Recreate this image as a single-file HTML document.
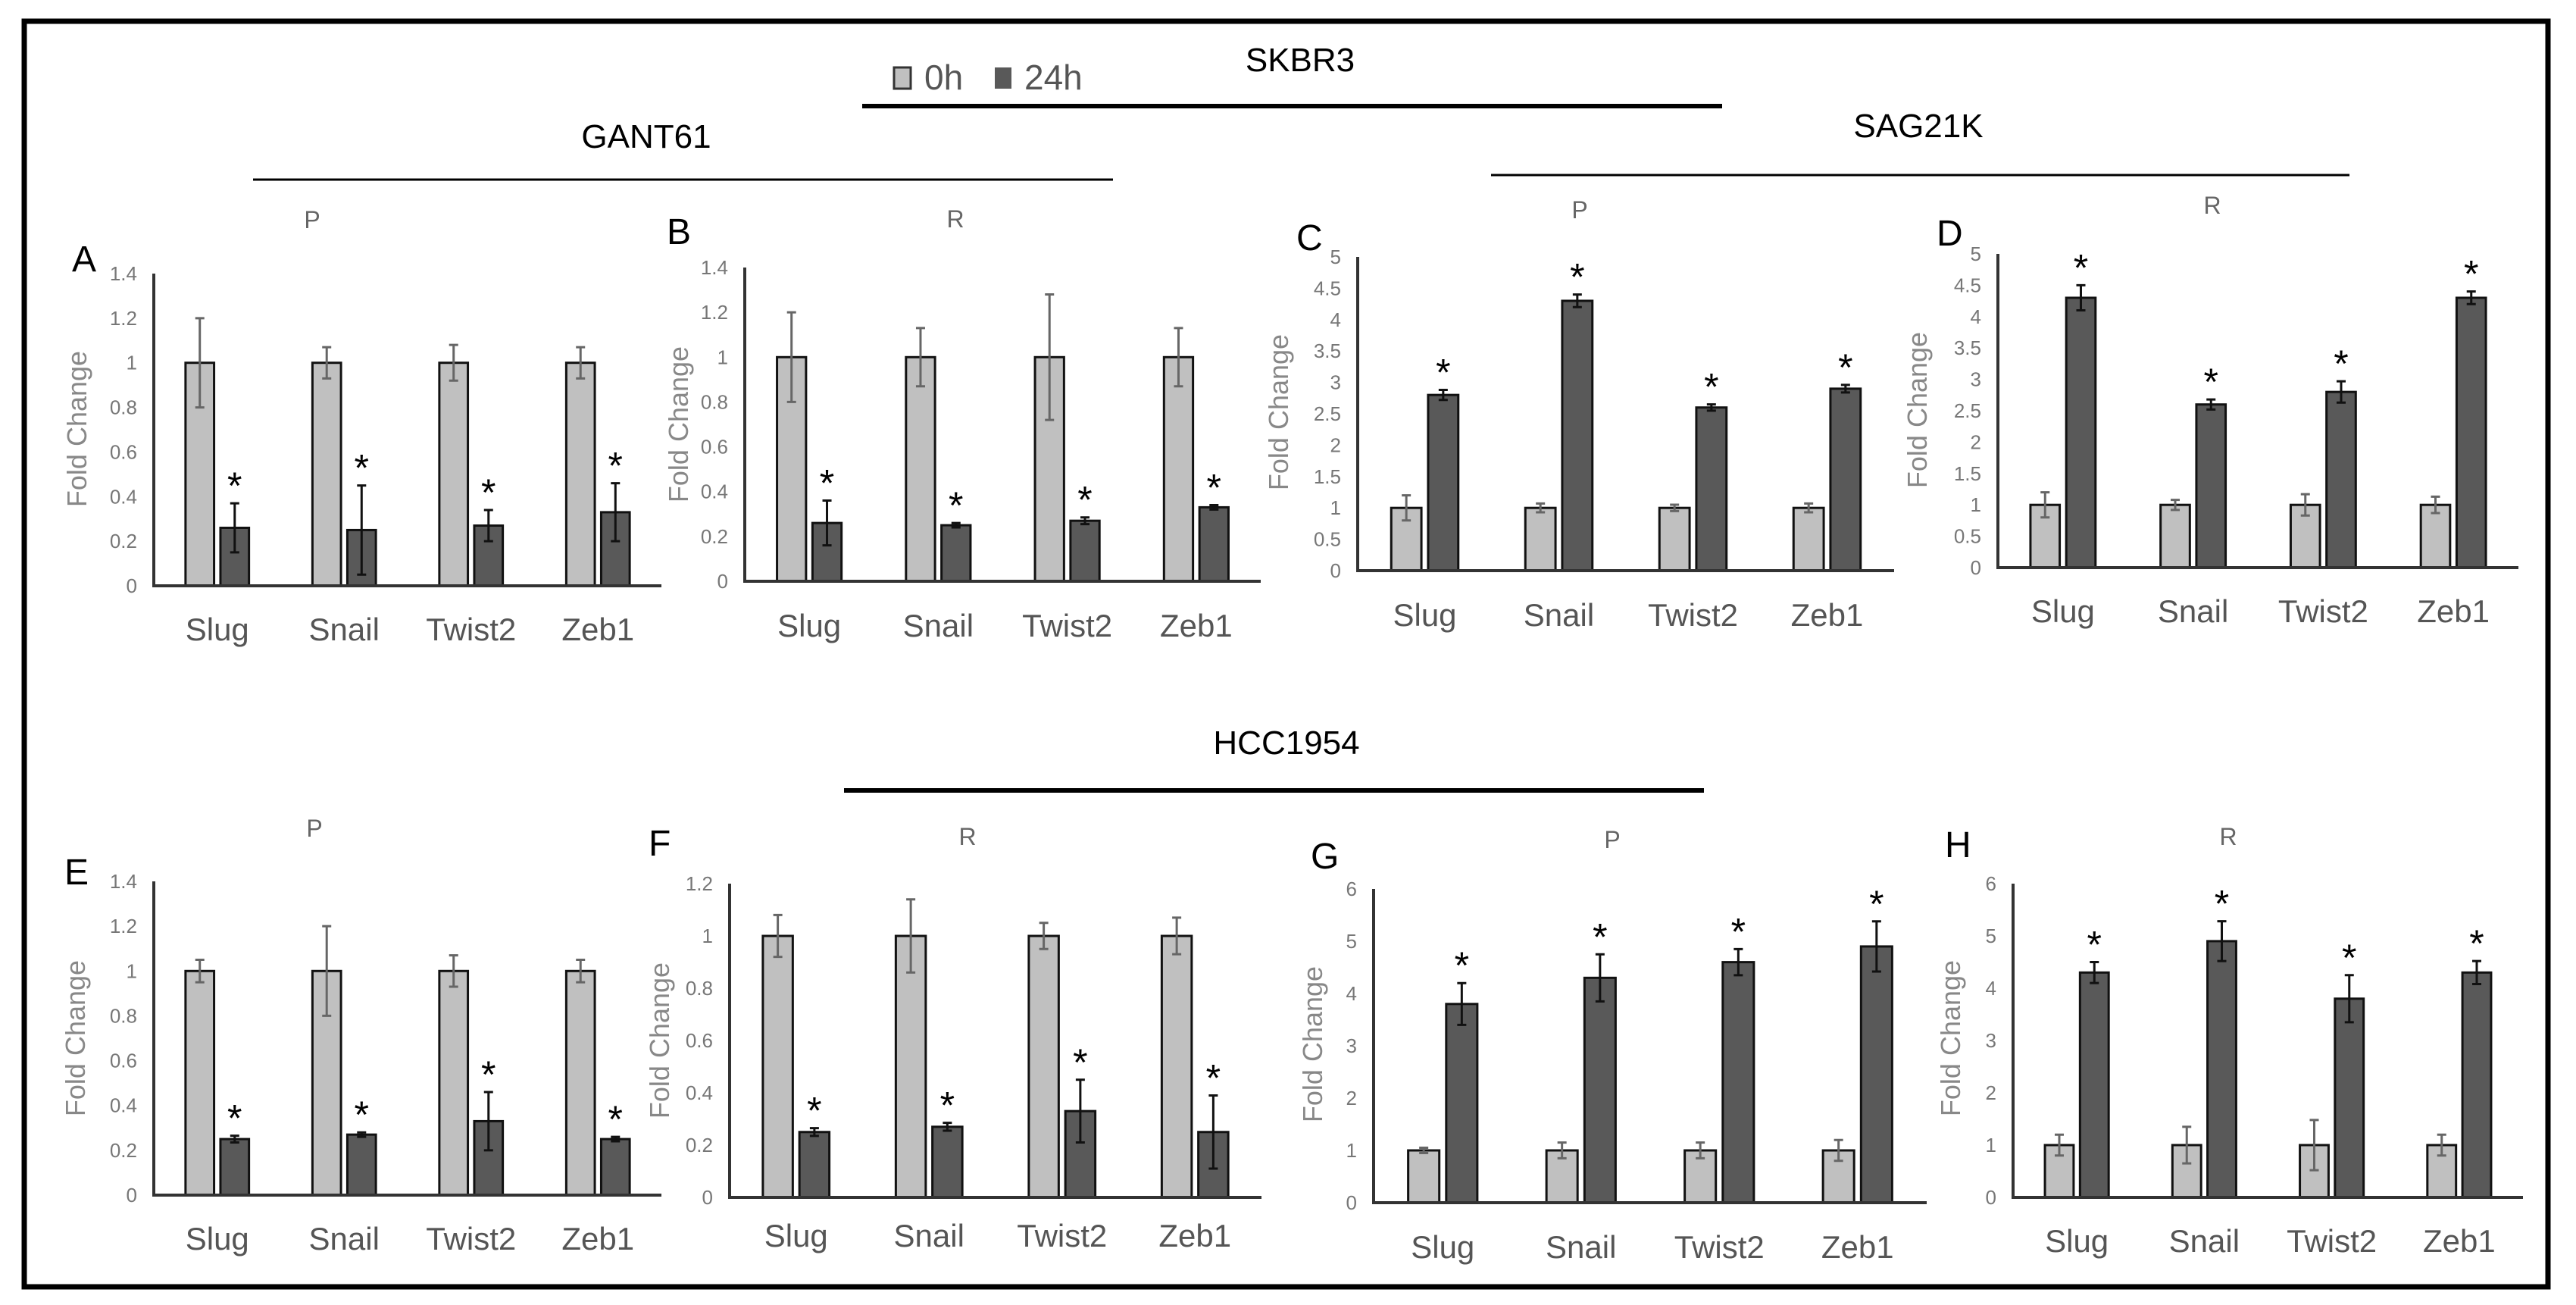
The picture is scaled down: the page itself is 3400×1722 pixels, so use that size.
<!DOCTYPE html>
<html><head><meta charset="utf-8"><style>
html,body{margin:0;padding:0;background:#fff}
svg{display:block}
text{font-family:"Liberation Sans Narrow","Liberation Sans",sans-serif}
.ft{font-family:"Liberation Sans",sans-serif}
</style></head><body>
<svg id="fig" width="3400" height="1722" viewBox="0 0 3400 1722" xmlns="http://www.w3.org/2000/svg">
<rect x="32" y="28" width="3331" height="1670" fill="none" stroke="#000" stroke-width="7"/>
<g>
<rect x="1180" y="89" width="22" height="28" fill="#c0c0c0" stroke="#333" stroke-width="3"/>
<text x="1220" y="118" font-size="46" fill="#555">0h</text>
<rect x="1313" y="89" width="22" height="28" fill="#595959"/>
<text x="1352" y="118" font-size="46" fill="#555">24h</text>
</g>
<text x="1716" y="94" font-size="44" text-anchor="middle" fill="#000">SKBR3</text>
<line x1="1138" y1="140" x2="2273" y2="140" stroke="#000" stroke-width="6"/>
<text x="853" y="195" font-size="44" text-anchor="middle" fill="#000">GANT61</text>
<line x1="334" y1="237" x2="1469" y2="237" stroke="#000" stroke-width="3"/>
<text x="2532" y="181" font-size="44" text-anchor="middle" fill="#000">SAG21K</text>
<line x1="1968" y1="231" x2="3101" y2="231" stroke="#000" stroke-width="3"/>
<text x="1698" y="995" font-size="44" text-anchor="middle" fill="#000">HCC1954</text>
<line x1="1114" y1="1043" x2="2249" y2="1043" stroke="#000" stroke-width="6"/>
</svg>
<script>
var categories = ["Slug","Snail","Twist2","Zeb1"];
var A0 = [1,1,1,1], A0e = [0.2,0.07,0.08,0.07], A24 = [0.26,0.25,0.27,0.33], A24e = [0.11,0.2,0.07,0.13];
var B0 = [1,1,1,1], B0e = [0.2,0.13,0.28,0.13], B24 = [0.26,0.25,0.27,0.33], B24e = [0.1,0.01,0.015,0.01];
var C0 = [1,1,1,1], C0e = [0.2,0.07,0.05,0.07], C24 = [2.8,4.3,2.6,2.9], C24e = [0.08,0.1,0.05,0.06];
var D0 = [1,1,1,1], D0e = [0.2,0.08,0.17,0.13], D24 = [4.3,2.6,2.8,4.3], D24e = [0.2,0.08,0.17,0.1];
var E0 = [1,1,1,1], E0e = [0.05,0.2,0.07,0.05], E24 = [0.25,0.27,0.33,0.25], E24e = [0.015,0.01,0.13,0.01];
var F0 = [1,1,1,1], F0e = [0.08,0.14,0.05,0.07], F24 = [0.25,0.27,0.33,0.25], F24e = [0.015,0.015,0.12,0.14];
var G0 = [1,1,1,1], G0e = [0.05,0.15,0.15,0.2], G24 = [3.8,4.3,4.6,4.9], G24e = [0.4,0.45,0.25,0.48];
var H0 = [1,1,1,1], H0e = [0.2,0.35,0.48,0.2], H24 = [4.3,4.9,3.8,4.3], H24e = [0.2,0.38,0.45,0.22];
var ticks14 = ["0","0.2","0.4","0.6","0.8","1","1.2","1.4"];
var ticks12 = ["0","0.2","0.4","0.6","0.8","1","1.2"];
var ticks5 = ["0","0.5","1","1.5","2","2.5","3","3.5","4","4.5","5"];
var ticks6 = ["0","1","2","3","4","5","6"];

var NS = "http://www.w3.org/2000/svg";
var svg = document.getElementById("fig");
function mk(tag, attrs, parent){var e=document.createElementNS(NS,tag);for(var k in attrs)e.setAttribute(k,attrs[k]);(parent||svg).appendChild(e);return e;}

var panels = [
 {id:"a",L:"A",sub:"P",v0:A0,e0:A0e,v1:A24,e1:A24e,t:ticks14,x0:203,x1:873,y0:773,yt:361,lx:95,ly:358,sx:412,sy:301,fx:114,fy:566,cy:845},
 {id:"b",L:"B",sub:"R",v0:B0,e0:B0e,v1:B24,e1:B24e,t:ticks14,x0:983,x1:1664,y0:767,yt:353,lx:880,ly:322,sx:1261,sy:300,fx:908,fy:560,cy:840},
 {id:"c",L:"C",sub:"P",v0:C0,e0:C0e,v1:C24,e1:C24e,t:ticks5,x0:1792,x1:2500,y0:753,yt:339,lx:1711,ly:330,sx:2085,sy:288,fx:1700,fy:544,cy:826},
 {id:"d",L:"D",sub:"R",v0:D0,e0:D0e,v1:D24,e1:D24e,t:ticks5,x0:2637,x1:3324,y0:749,yt:335,lx:2556,ly:324,sx:2920,sy:282,fx:2543,fy:541,cy:821},
 {id:"e",L:"E",sub:"P",v0:E0,e0:E0e,v1:E24,e1:E24e,t:ticks14,x0:203,x1:873,y0:1577,yt:1163,lx:85,ly:1167,sx:415,sy:1104,fx:112,fy:1370,cy:1649},
 {id:"f",L:"F",sub:"R",v0:F0,e0:F0e,v1:F24,e1:F24e,t:ticks12,x0:963,x1:1665,y0:1580,yt:1166,lx:856,ly:1129,sx:1277,sy:1115,fx:883,fy:1373,cy:1645},
 {id:"g",L:"G",sub:"P",v0:G0,e0:G0e,v1:G24,e1:G24e,t:ticks6,x0:1813,x1:2543,y0:1587,yt:1173,lx:1730,ly:1146,sx:2128,sy:1119,fx:1745,fy:1378,cy:1660},
 {id:"h",L:"H",sub:"R",v0:H0,e0:H0e,v1:H24,e1:H24e,t:ticks6,x0:2657,x1:3330,y0:1580,yt:1166,lx:2567,ly:1131,sx:2941,sy:1115,fx:2587,fy:1370,cy:1652}
];

panels.forEach(function(p){
  var g = mk("g",{});
  
  
  var tmax = parseFloat(p.t[p.t.length-1]);
  function yS(v){return p.y0 - (v/tmax)*(p.y0-p.yt);}
  var gw = (p.x1-p.x0)/categories.length;
  function xC(i){return p.x0 + gw*(i+0.5);}
  var bw = gw*0.225, gap = gw*0.05;

  var lt = mk("text",{x:p.lx,y:p.ly,"font-size":48,fill:"#000",class:"ft"},g);
  lt.textContent = p.L;
  
  
  var st = mk("text",{x:p.sx,y:p.sy,"font-size":32,fill:"#666","text-anchor":"middle"},g);
  st.textContent = p.sub;
  
  
  var yt = mk("text",{x:p.fx,y:p.fy,"font-size":36,fill:"#888","text-anchor":"middle",class:"ft",transform:"rotate(-90 "+p.fx+" "+p.fy+")"},g);
  yt.textContent = "Fold Change";
  
  

  p.t.forEach(function(t){
    var tk = mk("text",{x:p.x0-22,y:yS(parseFloat(t))+9,"font-size":26,fill:"#777","text-anchor":"end"},g);
    tk.textContent = t;
    
    
  });

  categories.forEach(function(c,i){
    var cx = xC(i);
    var series = [[p.v0[i],p.e0[i],cx-gap/2-bw,"#c0c0c0","#666","bar-0h-"],[p.v1[i],p.e1[i],cx+gap/2,"#595959","#111","bar-24h-"]];
    series.forEach(function(s,k){
      var r = mk("rect",{x:s[2],y:yS(s[0]),width:bw,height:p.y0-yS(s[0]),fill:s[3],stroke:"#111","stroke-width":3},g);
      
      
      var ex = s[2]+bw/2, yh = yS(s[0]+s[1]), yl = yS(s[0]-s[1]);
      var eb = mk("path",{d:"M"+ex+" "+yh+"V"+yl+"M"+(ex-6)+" "+yh+"H"+(ex+6)+"M"+(ex-6)+" "+yl+"H"+(ex+6),stroke:s[4],"stroke-width":3,fill:"none"},g);
      
      
      if(k===1){
        var sr = mk("text",{x:ex,y:yh-6,"font-size":50,fill:"#000","text-anchor":"middle",class:"ft"},g);
        sr.textContent = "*";
        
        
      }
    });
    var cl = mk("text",{x:cx,y:p.cy,"font-size":42,fill:"#555","text-anchor":"middle"},g);
    cl.textContent = c;
    
    
  });

  var ax = mk("path",{d:"M"+p.x0+" "+p.yt+"V"+p.y0+"H"+p.x1,stroke:"#333","stroke-width":4,fill:"none"},g);
  
  
});
</script>
</body></html>
